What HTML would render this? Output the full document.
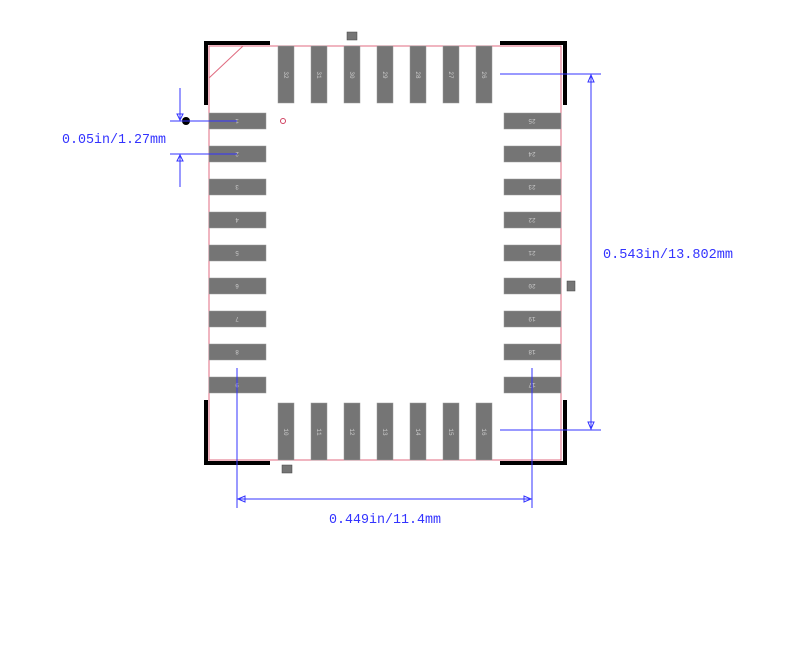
<!DOCTYPE html>
<html><head><style>html,body{margin:0;padding:0;background:#fff}svg{display:block}</style></head>
<body>
<svg width="800" height="663" xmlns="http://www.w3.org/2000/svg" font-family="Liberation Mono, monospace">
<rect x="209" y="46" width="352" height="414" fill="none" stroke="#e06b80" stroke-width="1"/>
<line x1="209" y1="78" x2="243" y2="46" stroke="#e06b80" stroke-width="1"/>
<g stroke="#000" stroke-width="4" fill="none">
<polyline points="206,105 206,43 270,43"/>
<polyline points="500,43 565,43 565,105"/>
<polyline points="206,400 206,463 270,463"/>
<polyline points="500,463 565,463 565,400"/>
</g>
<g fill="#757575" stroke="#999" stroke-width="0.5">
<rect x="209" y="113" width="57" height="16"/><rect x="209" y="146" width="57" height="16"/><rect x="209" y="179" width="57" height="16"/><rect x="209" y="212" width="57" height="16"/><rect x="209" y="245" width="57" height="16"/><rect x="209" y="278" width="57" height="16"/><rect x="209" y="311" width="57" height="16"/><rect x="209" y="344" width="57" height="16"/><rect x="209" y="377" width="57" height="16"/>
<rect x="504" y="113" width="57" height="16"/><rect x="504" y="146" width="57" height="16"/><rect x="504" y="179" width="57" height="16"/><rect x="504" y="212" width="57" height="16"/><rect x="504" y="245" width="57" height="16"/><rect x="504" y="278" width="57" height="16"/><rect x="504" y="311" width="57" height="16"/><rect x="504" y="344" width="57" height="16"/><rect x="504" y="377" width="57" height="16"/>
<rect x="278" y="46" width="16" height="57"/><rect x="311" y="46" width="16" height="57"/><rect x="344" y="46" width="16" height="57"/><rect x="377" y="46" width="16" height="57"/><rect x="410" y="46" width="16" height="57"/><rect x="443" y="46" width="16" height="57"/><rect x="476" y="46" width="16" height="57"/>
<rect x="278" y="403" width="16" height="57"/><rect x="311" y="403" width="16" height="57"/><rect x="344" y="403" width="16" height="57"/><rect x="377" y="403" width="16" height="57"/><rect x="410" y="403" width="16" height="57"/><rect x="443" y="403" width="16" height="57"/><rect x="476" y="403" width="16" height="57"/>
<rect x="347" y="32" width="10" height="8" stroke="#444"/>
<rect x="567" y="281" width="8" height="10" stroke="#444"/>
<rect x="282" y="465" width="10" height="8" stroke="#444"/>
</g>
<g fill="#ccc" font-size="6" text-anchor="middle">
<g transform="rotate(180 237 121)"><text x="237" y="123">1</text></g>
<g transform="rotate(180 237 154)"><text x="237" y="156">2</text></g>
<g transform="rotate(180 237 187)"><text x="237" y="189">3</text></g>
<g transform="rotate(180 237 220)"><text x="237" y="222">4</text></g>
<g transform="rotate(180 237 253)"><text x="237" y="255">5</text></g>
<g transform="rotate(180 237 286)"><text x="237" y="288">6</text></g>
<g transform="rotate(180 237 319)"><text x="237" y="321">7</text></g>
<g transform="rotate(180 237 352)"><text x="237" y="354">8</text></g>
<g transform="rotate(180 237 385)"><text x="237" y="387">9</text></g>
<g transform="rotate(180 532 121)"><text x="532" y="123">25</text></g>
<g transform="rotate(180 532 154)"><text x="532" y="156">24</text></g>
<g transform="rotate(180 532 187)"><text x="532" y="189">23</text></g>
<g transform="rotate(180 532 220)"><text x="532" y="222">22</text></g>
<g transform="rotate(180 532 253)"><text x="532" y="255">21</text></g>
<g transform="rotate(180 532 286)"><text x="532" y="288">20</text></g>
<g transform="rotate(180 532 319)"><text x="532" y="321">19</text></g>
<g transform="rotate(180 532 352)"><text x="532" y="354">18</text></g>
<g transform="rotate(180 532 385)"><text x="532" y="387">17</text></g>
<g transform="rotate(90 286 75)"><text x="286" y="77">32</text></g>
<g transform="rotate(90 319 75)"><text x="319" y="77">31</text></g>
<g transform="rotate(90 352 75)"><text x="352" y="77">30</text></g>
<g transform="rotate(90 385 75)"><text x="385" y="77">29</text></g>
<g transform="rotate(90 418 75)"><text x="418" y="77">28</text></g>
<g transform="rotate(90 451 75)"><text x="451" y="77">27</text></g>
<g transform="rotate(90 484 75)"><text x="484" y="77">26</text></g>
<g transform="rotate(90 286 432)"><text x="286" y="434">10</text></g>
<g transform="rotate(90 319 432)"><text x="319" y="434">11</text></g>
<g transform="rotate(90 352 432)"><text x="352" y="434">12</text></g>
<g transform="rotate(90 385 432)"><text x="385" y="434">13</text></g>
<g transform="rotate(90 418 432)"><text x="418" y="434">14</text></g>
<g transform="rotate(90 451 432)"><text x="451" y="434">15</text></g>
<g transform="rotate(90 484 432)"><text x="484" y="434">16</text></g>
</g>
<circle cx="283" cy="121" r="2.5" fill="none" stroke="#d04060" stroke-width="1"/>
<circle cx="186" cy="121" r="4" fill="#000"/>
<g stroke="#3333ff" stroke-width="1" fill="none">
<line x1="500" y1="74" x2="601" y2="74"/><line x1="500" y1="430" x2="601" y2="430"/>
<line x1="591" y1="74" x2="591" y2="430"/>
<polygon points="591,75 588,82 594,82"/><polygon points="591,429 588,422 594,422"/>
<line x1="237" y1="368" x2="237" y2="508"/><line x1="532" y1="368" x2="532" y2="508"/>
<line x1="237" y1="499" x2="532" y2="499"/>
<polygon points="238,499 245,496 245,502"/><polygon points="531,499 524,496 524,502"/>
<line x1="170" y1="121" x2="237" y2="121"/><line x1="170" y1="154" x2="237" y2="154"/>
<line x1="180" y1="88" x2="180" y2="121"/><line x1="180" y1="154" x2="180" y2="187"/>
<polygon points="180,120 177,114 183,114"/><polygon points="180,155 177,161 183,161"/>
</g>
<g fill="#3333ff" font-size="14" font-family="Liberation Mono, monospace">
<text x="62" y="143" textLength="104" lengthAdjust="spacingAndGlyphs">0.05in/1.27mm</text>
<text x="603" y="258" textLength="130" lengthAdjust="spacingAndGlyphs">0.543in/13.802mm</text>
<text x="329" y="523" textLength="112" lengthAdjust="spacingAndGlyphs">0.449in/11.4mm</text>
</g>
</svg>
</body></html>
